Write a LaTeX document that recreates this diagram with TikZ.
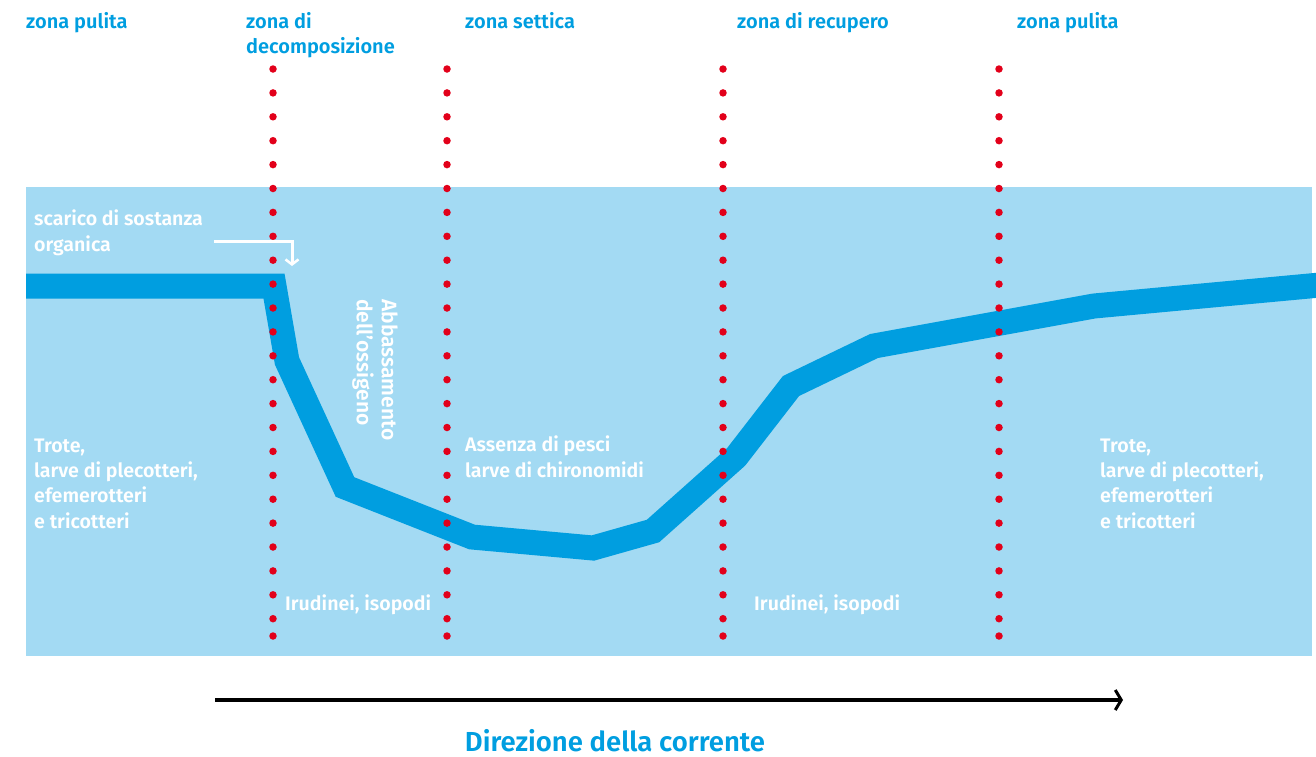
\documentclass[tikz,border=0pt]{standalone}
\usepackage{fontspec}
\setmainfont{Fira Sans}[BoldFont={Fira Sans SemiBold}]
\usetikzlibrary{arrows.meta}
\definecolor{water}{HTML}{A3DAF3}
\definecolor{river}{HTML}{009EE0}
\definecolor{dotred}{HTML}{E2001A}
\tikzstyle{zone}=[text=river,font=\bfseries\fontsize{20}{25}\selectfont,anchor=base west,align=left,inner sep=0pt]
\tikzstyle{fauna}=[text=white,font=\bfseries\fontsize{19.6}{25.3}\selectfont,anchor=base west,align=left,inner sep=0pt]
\tikzstyle{dot}=[circle,fill=dotred,minimum size=7.5pt,inner sep=0pt]
\tikzstyle{stream} = [draw=river,line width=25pt,line join=miter]

\begin{document}
\begin{tikzpicture}[x=1pt,y=-1pt]
    \useasboundingbox (0,0) rectangle (1316,756);
    % Draw the water first
    \fill[water] (26,187) rectangle (1312,656);

    % The river with its dip along the stream
    \draw[stream] (26,286) -- (274,286) -- (287,361) -- (345,487) -- (472,537) -- (593,548)
        -- (653,531) -- (736,457) -- (791,386) -- (874,346) -- (1094,306) -- (1320,285);

    % Dotted borders between the zones
    \foreach \x/\name in {273/decomp, 447/settica, 723/recupero, 999/pulita} {
        \foreach \i in {0,...,23}
            \node[dot] (\name-\i) at (\x,{69+23.9*\i}) {};
        \node[dot] (\name-24) at (\x,636) {};
    }

    % Zone labels on top (base of the last line)
    \foreach \pos/\name/\txt in {{(26,28)/zona1/zona pulita}, {(246,53)/zona2/zona di\\decomposizione},
            {(465,28)/zona3/zona settica}, {(737,28)/zona4/zona di recupero}, {(1017,28)/zona5/zona pulita}}
        \node[zone] (\name) at \pos {\txt};

    % Life found in each zone
    \node[fauna] (scarico) at (34,251) {scarico di sostanza\\organica};
    \node[fauna] (troteL) at (34,528) {Trote,\\larve di plecotteri,\\efemerotteri\\e tricotteri};
    \node[fauna] (troteR) at (1100,528) {Trote,\\larve di plecotteri,\\efemerotteri\\e tricotteri};
    \node[fauna] (assenza) at (465,477) {Assenza di pesci\\larve di chironomidi};
    \node[fauna] (irudL) at (285,610) {Irudinei, isopodi};
    \node[fauna] (irudR) at (754,610) {Irudinei, isopodi};
    \node[fauna,font=\bfseries\fontsize{21}{25}\selectfont,anchor=north west,rotate=-90] (ossigeno)
        at (398,299) {Abbassamento\\dell'ossigeno};

    % Arrows
    \coordinate (scaricoA) at (214,241);
    \coordinate (scaricoB) at (292,266);
    \draw[white,line width=3pt,-{Straight Barb[length=5pt,width=13pt,line width=2.5pt]}]
        (scaricoA) -| (scaricoB);

    \coordinate (flussoA) at (215,700);
    \coordinate (flussoB) at (1128,700);
    \draw[black,line width=4.5pt,-{Straight Barb[length=6pt,width=20pt,line width=3pt,sep=5pt]}]
        (flussoA) -- (flussoB);
    \node[text=river,font=\bfseries\fontsize{27.5}{30}\selectfont,anchor=base,inner sep=0pt] (direzione)
        at (615,751) {Direzione della corrente};
\end{tikzpicture}
\end{document}
